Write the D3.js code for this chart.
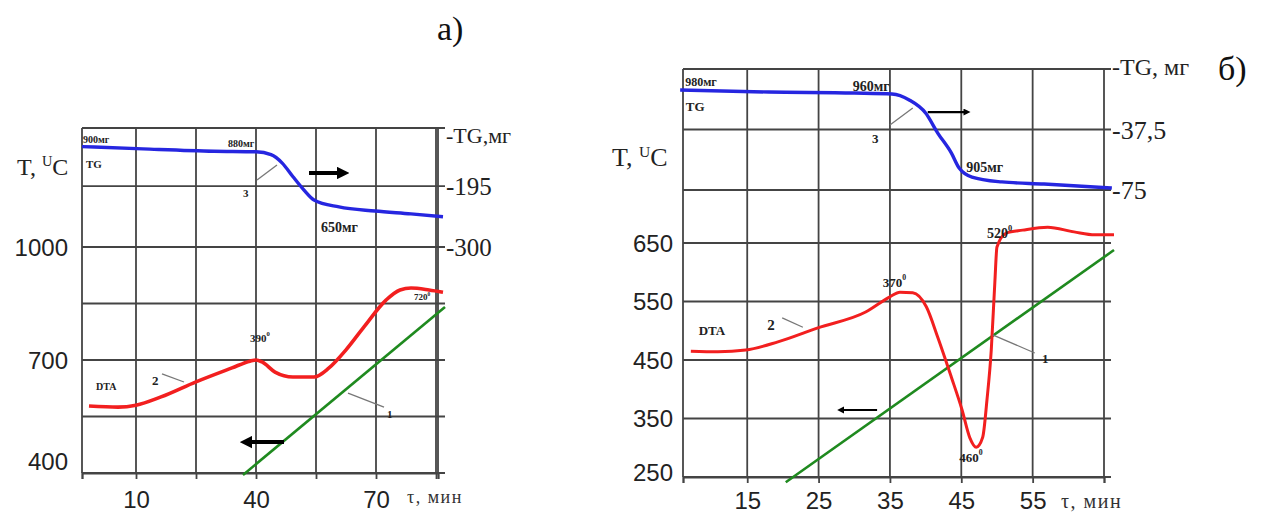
<!DOCTYPE html>
<html>
<head>
<meta charset="utf-8">
<script src="https://cdn.jsdelivr.net/npm/d3@7"></script>
<style>
  body { margin: 0; background: #fff; }
  svg { display: block; }
</style>
</head>
<body>
<div id="chart"></div>
<script>
// ---- panel a) ----
const aTimeGrid = [10, 25, 40, 55, 70, 85];
const aTimeTicks = [10, 40, 70];
const aTempGrid = [400, 550, 700, 850, 1000];
const aTempTicks = [400, 700, 1000];
const aTgTicks = [-195, -300];
// curve 3 (TG), read in -TG units: [time, value]
const aTG = [[-3.5, -127], [11.75, -131], [29.5, -135], [40, -136], [43.75, -141], [46.5, -155],
  [49.25, -179], [52, -202], [54.5, -219], [60.75, -231], [69.75, -238], [78.75, -243], [86.75, -248]];
// curve 2 (DTA), in °C
const aDTA = [[-1.75, 578], [5.5, 575], [10, 580], [16.25, 602], [25, 642], [34, 679], [38.5, 697],
  [40, 700], [41.5, 695], [44.75, 668], [49.25, 655], [54.5, 655], [58.25, 679], [62.5, 727],
  [67, 788], [72.5, 859], [76, 886], [78.75, 891], [83.25, 886], [86.75, 880]];
// curve 1 (heating)
const aHeat = [[36.75, 395], [87.25, 841]];

// ---- panel б) ----
const bTimeGrid = [15, 25, 35, 45, 55];
const bTimeTicks = [15, 25, 35, 45, 55];
const bTempGrid = [250, 350, 450, 550, 650];
const bTempTicks = [250, 350, 450, 550, 650];
const bTgTicks = [-37.5, -75];
const bTG = [[5.6, -13], [18, -14.3], [30, -14.9], [35.3, -15.5], [37.7, -19.2], [40, -27.3],
  [41.7, -39.7], [43.6, -52], [44.7, -61.4], [46.5, -67], [50.7, -70], [56.6, -71.3], [66.1, -73.8]];
const bDTA = [[7.1, 465], [10.9, 464], [14.8, 467], [19.3, 481], [24.9, 505], [31.6, 532], [35, 558],
  [36.4, 566], [38.2, 565], [40.1, 541], [41.7, 489], [43.6, 421], [45.1, 365], [46.2, 317],
  [47.1, 301], [48, 318], [48.6, 382], [49.2, 467], [49.7, 582], [50, 643], [51.3, 667],
  [53.6, 672], [57.1, 677], [60.8, 669], [63.7, 664], [66.4, 664]];
const bHeat = [[20.4, 241], [66.4, 638]];

const SANS = "'Liberation Sans', Arial, sans-serif";
const SERIF = "'Liberation Serif', 'Times New Roman', serif";

const svg = d3.select("#chart").append("svg")
    .attr("width", 1263)
    .attr("height", 515);

svg.append("defs").append("marker")
    .attr("id", "head")
    .attr("viewBox", "0 0 10 10")
    .attr("refX", 5).attr("refY", 5)
    .attr("markerWidth", 3.2).attr("markerHeight", 3.2)
    .attr("orient", "auto")
    .append("path")
    .attr("d", "M0,0L10,5L0,10z")
    .attr("fill", "#000");

function drawPanel(cfg) {
    const g = svg.append("g");
    const x = d3.scaleLinear().domain(cfg.tDomain).range([cfg.left, cfg.right]);
    const yT = d3.scaleLinear().domain(cfg.tempDomain).range([cfg.bottom, cfg.tempTop]);
    const yG = d3.scaleLinear().domain(cfg.tgDomain).range([cfg.top, cfg.tgBottom]);
    const sc = {t: yT, g: yG};

    // grid: horizontal lines stick out a little on the right
    const hLines = cfg.tempGrid.map(d => yT(d)).concat(cfg.tgTicks.map(d => yG(d)), [cfg.top]);
    g.selectAll(".hgrid")
        .data(hLines)
        .enter().append("line")
        .attr("x1", cfg.left).attr("x2", cfg.right + 7)
        .attr("y1", d => d).attr("y2", d => d)
        .attr("stroke", "#444").attr("stroke-width", 1.8);

    g.selectAll(".vgrid")
        .data(cfg.timeGrid.concat(cfg.tDomain))
        .enter().append("line")
        .attr("x1", d => x(d)).attr("x2", d => x(d))
        .attr("y1", cfg.top).attr("y2", cfg.bottom)
        .attr("stroke", "#444").attr("stroke-width", 1.8);

    // time axis
    const xAxis = g.append("g")
        .attr("transform", `translate(0,${cfg.bottom})`)
        .call(d3.axisBottom(x)
            .tickValues(cfg.tDomain.concat(cfg.timeGrid))
            .tickFormat(d => cfg.timeTicks.includes(d) ? d : "")
            .tickSizeOuter(0).tickSize(6).tickPadding(cfg.tickPad));
    xAxis.select(".domain").attr("stroke", "#444").attr("stroke-width", 1.8);
    xAxis.selectAll(".tick line").attr("stroke", "#444").attr("stroke-width", 1.8);
    xAxis.selectAll("text").attr("font-family", SANS).attr("font-size", 24).attr("fill", "#222");

    g.append("text")
        .attr("x", cfg.tauX).attr("y", cfg.tauY)
        .attr("font-family", SERIF).attr("font-size", cfg.tauSize)
        .attr("letter-spacing", 1.5).attr("fill", "#333")
        .text("τ, мин");

    // temperature labels on the left
    const tAxis = g.append("g")
        .attr("transform", `translate(${cfg.left - cfg.tempPad},0)`)
        .call(d3.axisLeft(yT).tickValues(cfg.tempTicks).tickFormat(d3.format("d"))
            .tickSize(0).tickPadding(0));
    tAxis.select(".domain").remove();
    tAxis.selectAll("text")
        .attr("font-family", SANS).attr("font-size", 24).attr("fill", "#222")
        .attr("dy", d => d === cfg.tempDomain[0] ? -cfg.bottomLift + 8 : 8);

    const tLab = g.append("text")
        .attr("x", cfg.tLabX).attr("y", cfg.tLabY)
        .attr("font-family", SERIF).attr("font-size", cfg.tLabSize).attr("fill", "#222");
    tLab.append("tspan").text("T, ");
    tLab.append("tspan").attr("font-size", cfg.tLabSize * 0.6).attr("dy", -9).text("U");
    tLab.append("tspan").attr("dy", 9).text("C");

    // TG labels on the right
    g.selectAll(".tglab")
        .data(cfg.tgTicks)
        .enter().append("text")
        .attr("x", cfg.right + 8).attr("y", d => yG(d) + 9)
        .attr("font-family", SERIF).attr("font-size", cfg.tgSize).attr("fill", "#222")
        .text(d => String(d).replace(".", ","));
    g.append("text")
        .attr("x", cfg.right + 8).attr("y", cfg.top + cfg.tgTitleDy)
        .attr("font-family", SERIF).attr("font-size", cfg.tgTitleSize).attr("fill", "#222")
        .text(cfg.tgTitle);

    g.append("text")
        .attr("x", cfg.letterX).attr("y", cfg.letterY)
        .attr("font-family", SERIF).attr("font-size", 34).attr("fill", "#111")
        .text(cfg.letter);

    // curves
    const lineT = d3.line().x(d => x(d[0])).y(d => yT(d[1])).curve(d3.curveMonotoneX);
    const lineG = d3.line().x(d => x(d[0])).y(d => yG(d[1])).curve(d3.curveMonotoneX);

    g.append("path").datum(cfg.heat).attr("d", lineT)
        .attr("fill", "none").attr("stroke", "#1f8a1f").attr("stroke-width", 2.6);
    g.append("path").datum(cfg.dta).attr("d", lineT)
        .attr("fill", "none").attr("stroke", "#f21f1f").attr("stroke-width", cfg.redW);
    g.append("path").datum(cfg.tg).attr("d", lineG)
        .attr("fill", "none").attr("stroke", "#2626e0").attr("stroke-width", 3.4);

    // leader lines for curve numbers
    g.selectAll(".leader")
        .data(cfg.leaders)
        .enter().append("line")
        .attr("x1", d => x(d[0])).attr("y1", d => sc[d[4]](d[1]))
        .attr("x2", d => x(d[2])).attr("y2", d => sc[d[4]](d[3]))
        .attr("stroke", "#777").attr("stroke-width", 1.3);

    // arrows showing which axis a curve belongs to
    g.selectAll(".arrow")
        .data(cfg.arrows)
        .enter().append("line")
        .attr("x1", d => x(d[0])).attr("y1", d => sc[d[4]](d[1]))
        .attr("x2", d => x(d[2])).attr("y2", d => sc[d[4]](d[3]))
        .attr("stroke", "#000").attr("stroke-width", cfg.arrowW)
        .attr("marker-end", "url(#head)");

    // small labels
    g.selectAll(".note")
        .data(cfg.notes)
        .enter().append("text")
        .attr("x", d => x(d[2])).attr("y", d => sc[d[4]](d[3]))
        .attr("font-family", SERIF).attr("font-weight", "bold")
        .attr("font-size", d => d[5]).attr("fill", "#222")
        .each(function(d) {
            const t = d3.select(this);
            t.append("tspan").text(d[0]);
            if (d[1]) t.append("tspan").attr("font-size", d[5] * 0.6).attr("dy", -d[5] * 0.5).text(d[1]);
        });
}

drawPanel({
    left: 82, right: 438, top: 128, bottom: 473, tempTop: 247, tgBottom: 247,
    tDomain: [-3.5, 85.5], tempDomain: [400, 1000], tgDomain: [-95, -300],
    timeGrid: aTimeGrid, timeTicks: aTimeTicks, tempGrid: aTempGrid, tempTicks: aTempTicks,
    tgTicks: aTgTicks, tg: aTG, dta: aDTA, heat: aHeat,
    tickPad: 12, tauX: 407, tauY: 503, tauSize: 18,
    tempPad: 14, bottomLift: 12,
    tLabX: 17, tLabY: 175, tLabSize: 24,
    tgSize: 25, tgTitle: "-TG,мг", tgTitleSize: 22, tgTitleDy: 15,
    letter: "а)", letterX: 437, letterY: 40,
    redW: 3.6, arrowW: 4,
    notes: [
        ["900мг", "", -3.25, -121, "g", 10],
        ["TG", "", -2.5, -164, "g", 11],
        ["880мг", "", 33, -128, "g", 10],
        ["3", "", 36.75, -214, "g", 11],
        ["650мг", "", 56.25, -274, "g", 14],
        ["390", "0", 38.5, 748, "t", 11],
        ["DTA", "", 0, 620, "t", 10],
        ["2", "", 14, 634, "t", 13],
        ["1", "", 72.75, 546, "t", 11],
        ["720", "0", 79.5, 859, "t", 9]
    ],
    leaders: [[40.25, -184.6, 45.25, -158.7, "g"], [16.5, 663, 22, 641.6, "t"], [63, 612, 72, 575, "t"]],
    arrows: [[53.25, -172.5, 61.75, -172.5, "g"], [47, 482, 37.5, 482, "t"]]
});

drawPanel({
    left: 683, right: 1104, top: 69, bottom: 477, tempTop: 243, tgBottom: 190,
    tDomain: [6, 65], tempDomain: [250, 650], tgDomain: [0, -75],
    timeGrid: bTimeGrid, timeTicks: bTimeTicks, tempGrid: bTempGrid, tempTicks: bTempTicks,
    tgTicks: bTgTicks, tg: bTG, dta: bDTA, heat: bHeat,
    tickPad: 9, tauX: 1061, tauY: 508, tauSize: 20,
    tempPad: 10, bottomLift: 5,
    tLabX: 612, tLabY: 166, tLabSize: 26,
    tgSize: 26, tgTitle: "-TG, мг", tgTitleSize: 24, tgTitleDy: 6,
    letter: "б)", letterX: 1218, letterY: 80,
    redW: 3, arrowW: 2.2,
    notes: [
        ["980мг", "", 6.3, -10.5, "g", 12],
        ["TG", "", 6.4, -26, "g", 13],
        ["960мг", "", 29.8, -13.6, "g", 14],
        ["3", "", 32.5, -45.9, "g", 13],
        ["905мг", "", 45.7, -63.8, "g", 14],
        ["520", "0", 48.6, 658, "t", 14],
        ["370", "0", 34, 575, "t", 13],
        ["460", "0", 44.7, 276, "t", 13],
        ["DTA", "", 8.2, 493, "t", 13],
        ["2", "", 17.8, 501, "t", 15],
        ["1", "", 56.3, 445, "t", 13]
    ],
    leaders: [[35, -34.7, 38.2, -24.2, "g"], [19.9, 522, 22.8, 506, "t"], [49.4, 493, 55.3, 462, "t"]],
    arrows: [[40.3, -26.7, 45.8, -26.7, "g"], [33.2, 364.5, 28.1, 364.5, "t"]]
});
</script>
</body>
</html>
